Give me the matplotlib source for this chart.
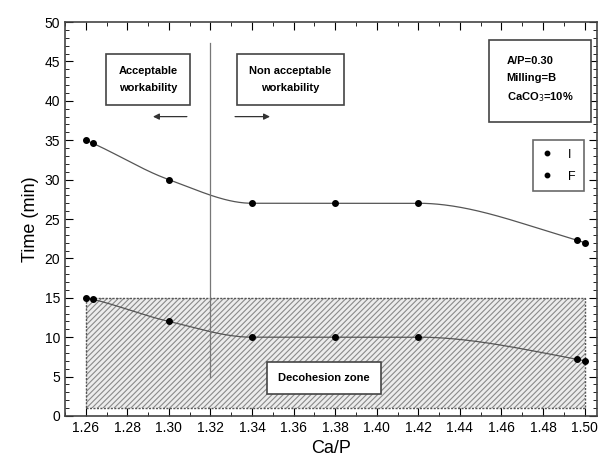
import numpy as np
import matplotlib.pyplot as plt
from matplotlib.patches import Rectangle

plt.rcParams['font.family'] = ['Liberation Sans', 'DejaVu Sans']
plt.rcParams['hatch.linewidth'] = 0.8

# data
ca_p = [1.26, 1.2635, 1.30, 1.34, 1.38, 1.42, 1.4965, 1.50]
time_i = [35, 34.6, 30, 27, 27, 27, 22.3, 22]
time_f = [15, 14.8, 12, 10, 10, 10, 7.2, 7]
x_ticks = [1.26, 1.28, 1.30, 1.32, 1.34, 1.36, 1.38, 1.40, 1.42, 1.44, 1.46, 1.48, 1.50]
y_ticks = [0, 5, 10, 15, 20, 25, 30, 35, 40, 45, 50]
zone = (1.26, 1.50, 1, 15)  # decohesion zone x0, x1, y0, y1
limit_x = 1.32


# monotone cubic (pchip) for the smooth guide line
def pchip(x, y, xs):
    x = np.asarray(x, float)
    y = np.asarray(y, float)
    h = np.diff(x)
    d = np.diff(y) / h
    m = np.zeros_like(y)
    for k in range(1, len(x) - 1):
        if d[k - 1] * d[k] > 0:
            w1 = 2 * h[k] + h[k - 1]
            w2 = h[k] + 2 * h[k - 1]
            m[k] = (w1 + w2) / (w1 / d[k - 1] + w2 / d[k])
    m[0] = d[0]
    m[-1] = d[-1]
    idx = np.clip(np.searchsorted(x, xs) - 1, 0, len(x) - 2)
    t = (xs - x[idx]) / h[idx]
    h00 = 2 * t**3 - 3 * t**2 + 1
    h10 = t**3 - 2 * t**2 + t
    h01 = -2 * t**3 + 3 * t**2
    h11 = t**3 - t**2
    return h00 * y[idx] + h10 * h[idx] * m[idx] + h01 * y[idx + 1] + h11 * h[idx] * m[idx + 1]


fig = plt.figure(figsize=(6.05, 4.7), dpi=100)
ax = fig.add_axes([0.1074, 0.115, 0.8794, 0.838])

# hatched decohesion zone: fill + hatch, then dotted border
ax.add_patch(Rectangle((zone[0], zone[2]), zone[1] - zone[0], zone[3] - zone[2],
                       facecolor='#ececec', edgecolor='#8a8a8a', hatch='//////',
                       linewidth=0, zorder=1))
ax.add_patch(Rectangle((zone[0], zone[2]), zone[1] - zone[0], zone[3] - zone[2],
                       fill=False, edgecolor='#555555', linewidth=1.0,
                       linestyle=(0, (1.5, 1)), zorder=1))

xs = np.linspace(ca_p[0], ca_p[-1], 300)
ax.plot(xs, pchip(ca_p, time_i, xs), color='#555555', lw=0.9, zorder=2)
ax.plot(xs, pchip(ca_p, time_f, xs), color='#555555', lw=0.9, zorder=2)
ax.plot(ca_p, time_i, 'o', color='black', ms=4, label='I', zorder=3)
ax.plot(ca_p, time_f, 'o', color='black', ms=4, label='F', zorder=3)

ax.plot([limit_x, limit_x], [5, 47.3], color='#777777', lw=0.9, zorder=2)

box = dict(boxstyle='square,pad=1.1', facecolor='white', edgecolor='#444444', lw=1.2)
ax.text(1.29, 42.7, 'Acceptable\nworkability', ha='center', va='center',
        fontsize=8, fontweight='bold', linespacing=1.8, bbox=box)
ax.text(1.3585, 42.7, 'Non acceptable\nworkability', ha='center', va='center',
        fontsize=8, fontweight='bold', linespacing=1.8, bbox=box)
ax.text(1.3745, 4.8, 'Decohesion zone', ha='center', va='center',
        fontsize=8, fontweight='bold', zorder=4,
        bbox=dict(boxstyle='square,pad=1.0', facecolor='white', edgecolor='#444444', lw=1.2))
ax.text(1.4625, 42.6, 'A/P=0.30\nMilling=B\nCaCO$_3$=10%', ha='left', va='center',
        fontsize=8, fontweight='bold', linespacing=1.8,
        bbox=dict(boxstyle='square,pad=1.6', facecolor='white', edgecolor='#444444', lw=1.2))

ax.annotate('', xy=(1.291, 38), xytext=(1.310, 38),
            arrowprops=dict(arrowstyle='-|>', color='#333333', lw=0.9, mutation_scale=9))
ax.annotate('', xy=(1.350, 38), xytext=(1.3305, 38),
            arrowprops=dict(arrowstyle='-|>', color='#333333', lw=0.9, mutation_scale=9))

leg = ax.legend(loc='upper right', bbox_to_anchor=(0.988, 0.717), frameon=True,
                fancybox=False, edgecolor='#444444', fontsize=9, handlelength=0.8,
                handletextpad=1.3, borderpad=0.7, labelspacing=0.8, markerscale=0.8)
leg.get_frame().set_linewidth(1.2)

ax.set_xlim(1.25, 1.506)
ax.set_ylim(0, 50)
ax.set_xticks(x_ticks)
ax.set_xticklabels(['%.2f' % v for v in x_ticks])
ax.set_yticks(y_ticks)
ax.set_xticks(np.arange(1.25, 1.506, 0.01), minor=True)
ax.set_yticks(np.arange(0, 51, 1), minor=True)
ax.tick_params(which='both', direction='in', top=True, right=True, labelsize=10)
ax.tick_params(which='major', length=6)
ax.tick_params(which='minor', length=3)
for s in ax.spines.values():
    s.set_linewidth(1.2)
    s.set_color('#444444')

ax.set_xlabel('Ca/P', fontsize=13)
ax.set_ylabel('Time (min)', fontsize=13)

fig.savefig('out.png', dpi=100)
